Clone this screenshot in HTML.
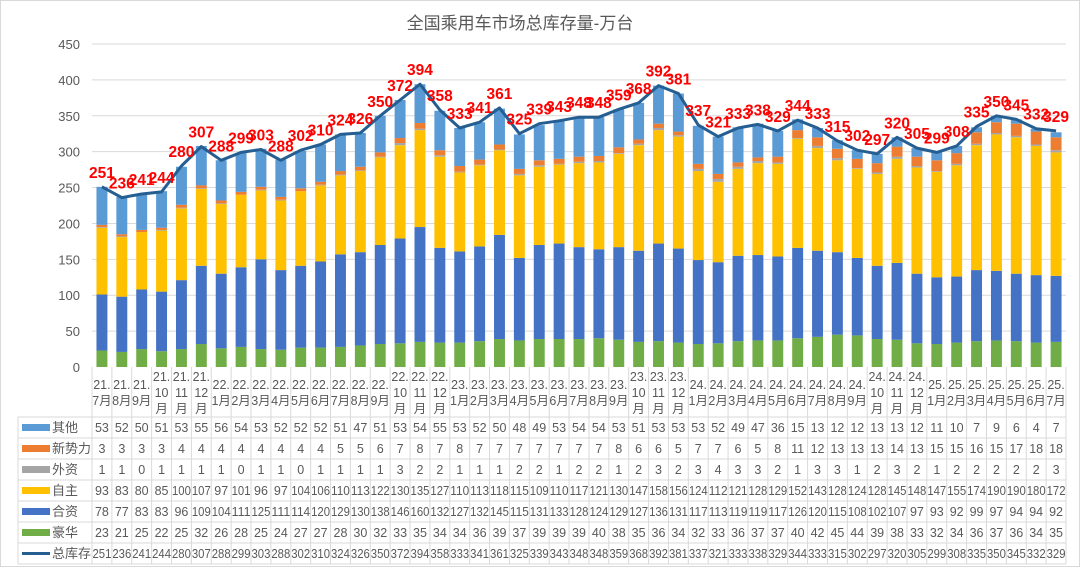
<!DOCTYPE html>
<html><head><meta charset="utf-8">
<style>
html,body{margin:0;padding:0;background:#fff;}
body{width:1080px;height:567px;overflow:hidden;font-family:"Liberation Sans","Noto Sans CJK SC",sans-serif;}
svg text{font-family:"Liberation Sans","Noto Sans CJK SC",sans-serif;}
</style></head>
<body>
<svg id="chart" width="1080" height="567" viewBox="0 0 1080 567" xmlns="http://www.w3.org/2000/svg">
<rect x="0.5" y="0.5" width="1079" height="566" fill="#fff" stroke="#d9d9d9"/>
<text x="520" y="29" font-size="17" fill="#595959" text-anchor="middle">全国乘用车市场总库存量-万台</text>
<g id="grid"></g><g id="bars"></g><g id="line"></g><g id="labels"></g><g id="table"></g>
</svg>
<script>
const categories=["21.7月","21.8月","21.9月","21.10月","21.11月","21.12月","22.1月","22.2月","22.3月","22.4月","22.5月","22.6月","22.7月","22.8月","22.9月","22.10月","22.11月","22.12月","23.1月","23.2月","23.3月","23.4月","23.5月","23.6月","23.7月","23.8月","23.9月","23.10月","23.11月","23.12月","24.1月","24.2月","24.3月","24.4月","24.5月","24.6月","24.7月","24.8月","24.9月","24.10月","24.11月","24.12月","25.1月","25.2月","25.3月","25.4月","25.5月","25.6月","25.7月"];
const luxury=[23,21,25,22,25,32,26,28,25,24,27,27,28,30,32,33,35,34,34,36,39,37,39,39,39,40,38,35,36,34,32,33,36,37,37,40,42,45,44,39,38,33,32,34,36,37,36,34,35];
const jointVenture=[78,77,83,83,96,109,104,111,125,111,114,120,129,130,138,146,160,132,127,132,145,115,131,133,128,124,129,127,136,131,117,113,119,119,117,126,120,115,108,102,107,97,93,92,99,97,94,94,92];
const domestic=[93,83,80,85,100,107,97,101,96,97,104,106,110,113,122,130,135,127,110,113,118,115,109,110,117,121,130,147,158,156,124,112,121,128,129,152,143,128,124,128,145,148,147,155,174,190,190,180,172];
const foreign=[1,1,0,1,1,1,1,0,1,1,0,1,1,1,1,3,2,2,1,1,1,2,2,1,2,2,1,2,3,2,3,4,3,3,2,1,3,3,1,2,3,2,1,2,2,2,2,2,3];
const newForces=[3,3,3,3,4,4,4,4,4,4,4,4,5,5,6,7,8,7,8,7,7,7,7,7,7,7,8,6,6,5,7,7,6,5,8,11,12,13,13,13,14,13,15,15,16,15,17,18,18];
const others=[53,52,50,51,53,55,56,54,53,52,52,52,51,47,51,53,54,55,53,52,50,48,49,53,54,54,53,51,53,53,53,52,49,47,36,15,13,12,12,13,13,12,11,10,7,9,6,4,7];
const total=[251,236,241,244,280,307,288,299,303,288,302,310,324,326,350,372,394,358,333,341,361,325,339,343,348,348,359,368,392,381,337,321,333,338,329,344,333,315,302,297,320,305,299,308,335,350,345,332,329];
const yTicks=[0,50,100,150,200,250,300,350,400,450];

const NS="http://www.w3.org/2000/svg";
const X0=92,X1=1066,Y0=367,YTOP=44,YMAX=450;
const cw=(X1-X0)/categories.length;
const xc=i=>X0+cw*(i+0.5);
const y=v=>Y0-(v/YMAX)*(Y0-YTOP);
function mk(tag,attrs,parent,txt){const e=document.createElementNS(NS,tag);for(const k in attrs)e.setAttribute(k,attrs[k]);if(txt!==undefined)e.textContent=txt;parent.appendChild(e);return e;}
const grid=document.getElementById('grid');
yTicks.forEach(t=>{
  if(t>0){const l=mk('line',{x1:X0,x2:X1,y1:y(t),y2:y(t),stroke:'#d9d9d9','stroke-width':1},grid);
  
  }
  const tx=mk('text',{x:80,y:y(t)+5,'font-size':13,fill:'#595959','text-anchor':'end'},grid,String(t));
  
  
});
const series=[
 {name:'豪华',key:'luxury',data:luxury,color:'#70AD47'},
 {name:'合资',key:'joint-venture',data:jointVenture,color:'#4472C4'},
 {name:'自主',key:'domestic',data:domestic,color:'#FFC000'},
 {name:'外资',key:'foreign',data:foreign,color:'#A5A5A5'},
 {name:'新势力',key:'new-forces',data:newForces,color:'#ED7D31'},
 {name:'其他',key:'others',data:others,color:'#5B9BD5'}];
const bars=document.getElementById('bars');
const bw=cw*0.55;
categories.forEach((c,i)=>{
  let acc=0;
  series.forEach(s=>{
    const v=s.data[i];
    const r=mk('rect',{x:xc(i)-bw/2,y:y(acc+v),width:bw,height:y(acc)-y(acc+v),fill:s.color},bars);
    
    
    acc+=v;
  });
});
const lineG=document.getElementById('line');
const pts=total.map((v,i)=>xc(i).toFixed(1)+','+y(v).toFixed(1)).join(' ');
const pl=mk('polyline',{points:pts,fill:'none',stroke:'#255E91','stroke-width':3,'stroke-linejoin':'round'},lineG);


const lab=document.getElementById('labels');
total.forEach((v,i)=>{
  const t=mk('text',{x:xc(i),y:y(v)-9,'font-size':15.5,'font-weight':'bold',fill:'#FF0000','text-anchor':'middle'},lab,String(v));
  
  
});
// table
const tb=document.getElementById('table');
const TL=18,rowTop=367,catH=50,rh=21;
const rows=[
 {name:'其他',data:others,color:'#5B9BD5',key:'others'},
 {name:'新势力',data:newForces,color:'#ED7D31',key:'new-forces'},
 {name:'外资',data:foreign,color:'#A5A5A5',key:'foreign'},
 {name:'自主',data:domestic,color:'#FFC000',key:'domestic'},
 {name:'合资',data:jointVenture,color:'#4472C4',key:'joint-venture'},
 {name:'豪华',data:luxury,color:'#70AD47',key:'luxury'},
 {name:'总库存',data:total,color:'#255E91',key:'total',line:true}];
const bottom=rowTop+catH+rh*rows.length;
for(let i=0;i<=categories.length;i++){
  mk('line',{x1:X0+cw*i,x2:X0+cw*i,y1:rowTop,y2:bottom,stroke:'#d9d9d9'},tb);
}
mk('line',{x1:TL,x2:TL,y1:rowTop+catH,y2:bottom,stroke:'#d9d9d9'},tb);
for(let r=0;r<=rows.length;r++){
  const yy=rowTop+catH+rh*r;
  mk('line',{x1:TL,x2:X1,y1:yy,y2:yy,stroke:'#d9d9d9'},tb);
}
categories.forEach((c,i)=>{
  const parts=c.split('.');
  const yr=parts[0]+'.', mo=parts[1];
  const g=mk('g',{},tb);
  
  
  const a={'font-size':12.5,fill:'#595959','text-anchor':'middle'};
  if(mo.length>2){
    mk('text',Object.assign({x:xc(i),y:rowTop+14},a),g,yr);
    mk('text',Object.assign({x:xc(i),y:rowTop+30},a),g,mo.slice(0,2));
    mk('text',Object.assign({x:xc(i),y:rowTop+46},a),g,'月');
  }else{
    mk('text',Object.assign({x:xc(i),y:rowTop+22},a),g,yr);
    mk('text',Object.assign({x:xc(i),y:rowTop+38},a),g,mo);
  }
});
rows.forEach((r,ri)=>{
  const yy=rowTop+catH+rh*ri;
  const lg=mk('g',{},tb);
  
  
  if(r.line) mk('rect',{x:22,y:yy+rh/2-1.5,width:28,height:3,fill:r.color},lg);
  else mk('rect',{x:22,y:yy+rh/2-3.5,width:28,height:7,fill:r.color},lg);
  mk('text',{x:52,y:yy+15,'font-size':13,fill:'#595959'},lg,r.name);
  r.data.forEach((v,i)=>{
    const t=mk('text',{x:xc(i),y:yy+15,'font-size':12.5,fill:'#595959','text-anchor':'middle'},tb,String(v));
    if(v>=100){t.setAttribute('textLength',cw-1);t.setAttribute('lengthAdjust','spacingAndGlyphs');}
    
    
  });
});
</script>
</body></html>
